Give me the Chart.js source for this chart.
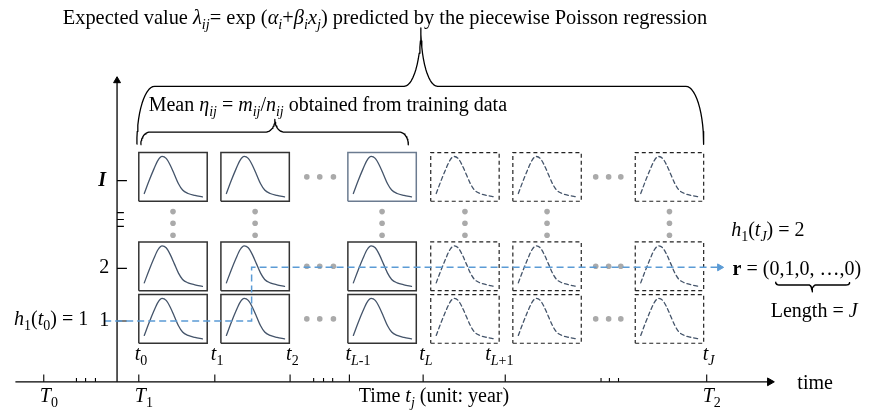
<!DOCTYPE html>
<html><head><meta charset="utf-8">
<script src="https://cdn.jsdelivr.net/npm/chart.js@4.4.1/dist/chart.umd.min.js"></script>
<style>html,body{margin:0;padding:0;background:#fff;overflow:hidden}canvas{display:block}</style>
</head><body>
<canvas id="c" width="870" height="419"></canvas>
<script>
// ===================== DATA =====================
// Time axis (unit: one observation interval, t0 = 0)
const majorTickTimes = [-1.25, 0, 1, 1.99, 2.77, 3.74, 4.82, 7.47];
const minorTickTimes = [-0.82, -0.70, -0.57, 2.30, 2.43, 2.55, 6.08, 6.19, 6.31];
// tick labels above the axis  (text, subscript)
const topTickLabels = [['t', '0'], ['t', '1'], ['t', '2'], ['t', 'L', '-1'], ['t', 'L'], ['t', 'L', '+1'], ['t', 'J']];
const topTickLabelTimes = [0, 1, 1.99, 2.77, 3.74, 4.61, 7.47];
// tick labels below the axis
const bottomTickLabels = [['T', '0'], ['T', '1'], ['T', '2']];
const bottomTickLabelTimes = [-1.25, 0, 7.47];

// State axis
const stateTicks = [1, 2, 3.67];
const stateTickLabels = ['1', '2', 'I'];
const minorStateTicks = [2.80, 2.93, 3.06];

// Cells (time slot x state), observed (training) vs predicted
const cellStartTimes = [0, 1.08, 2.75, 3.84, 4.92, 6.53];
const cellObserved   = [true, true, true, false, false, false];
const cellDuration   = 0.9;
const cellRowStates  = [1.04, 2.04, 3.74];
const cellStateSpan  = 0.926;

// Density shape drawn in every cell (relative time u, relative height v)
const densityU = [0.08, 0.15, 0.22, 0.28, 0.34, 0.40, 0.46, 0.52, 0.58, 0.64, 0.72, 0.82, 0.93];
const densityV = [0.16, 0.42, 0.66, 0.84, 0.92, 0.88, 0.74, 0.55, 0.36, 0.23, 0.16, 0.12, 0.09];

// Ellipsis dots
const hEllipsisTimes = [2.21, 2.38, 2.56, 6.01, 6.18, 6.34];
const vEllipsisStates = [2.63, 2.86, 3.08];

// Trajectory h1(t): state 1 at t0, jumps to 2
const pathTimes  = [-0.455, 1.484, 1.484, 7.62];
const pathStates = [1, 1, 2.02, 2.02];

// ===================== LAYOUT / STYLE =====================
const X_MIN = -135 / 77, X_MAX = 735 / 77;
const Y_MIN = 1 - 95 / 54, Y_MAX = 1 + 324 / 54;
const AXIS_S = -0.157, AXIS_T = -0.286;
const FONT = '"Liberation Serif", "Times New Roman", serif';
const FS = 20;
const CURVE = '#44546a', BLUE = '#5b9bd5', DOT = '#aaaaaa';

const datasets = [];
function seg(points, o) {
  datasets.push(Object.assign({
    data: points, showLine: true, borderColor: '#000', borderWidth: 1.3,
    pointRadius: 0, fill: false, order: 5, borderCapStyle: 'butt', borderJoinStyle: 'miter'
  }, o || {}));
}
function arrow(x, y, rot, color, r) {
  datasets.push({ data: [{x, y}], showLine: false, pointStyle: 'triangle', pointRotation: rot,
    pointRadius: r, backgroundColor: color, borderColor: color, borderWidth: 1, order: 0 });
}

// axes
seg([{x: -1.623, y: AXIS_S}, {x: 8.33, y: AXIS_S}], {order: 3});
arrow(8.30, AXIS_S, 90, '#000', 4.5);
seg([{x: AXIS_T, y: AXIS_S}, {x: AXIS_T, y: 5.58}], {order: 3});
arrow(AXIS_T, 5.57, 0, '#000', 4);
majorTickTimes.forEach(t => seg([{x: t, y: AXIS_S}, {x: t, y: AXIS_S + 0.139}], {borderWidth: 1.1, order: 3}));
minorTickTimes.forEach(t => seg([{x: t, y: AXIS_S}, {x: t, y: AXIS_S + 0.074}], {borderWidth: 1.1, order: 3}));
stateTicks.forEach(s => seg([{x: AXIS_T, y: s}, {x: AXIS_T + 0.13, y: s}], {borderWidth: 1.1, order: 3}));
minorStateTicks.forEach(s => seg([{x: AXIS_T, y: s}, {x: AXIS_T + 0.09, y: s}], {borderWidth: 1.1, order: 3}));

// cells
cellStartTimes.forEach((t0, c) => {
  cellRowStates.forEach((sc, r) => {
    const x0 = t0, x1 = t0 + cellDuration, y0 = sc - cellStateSpan / 2, y1 = sc + cellStateSpan / 2;
    const obs = cellObserved[c];
    let bc = obs ? '#333' : '#222';
    if (obs && c === 2 && r === 2) bc = '#6b7b90';
    seg([{x: x0, y: y0}, {x: x1, y: y0}, {x: x1, y: y1}, {x: x0, y: y1}, {x: x0, y: y0}],
      {borderColor: bc, borderWidth: obs ? 1.5 : 1.2, borderDash: obs ? [] : [4, 3], order: 6});
    seg(densityU.map((u, i) => ({x: x0 + u * cellDuration, y: y0 + densityV[i] * cellStateSpan})),
      {borderColor: CURVE, borderWidth: 1.3, borderDash: obs ? [] : [4, 3],
       cubicInterpolationMode: 'monotone', order: 6, borderCapStyle: 'round'});
  });
});

// ellipsis dots
const dots = [];
hEllipsisTimes.forEach(t => cellRowStates.forEach(s => dots.push({x: t, y: s})));
cellStartTimes.forEach(t0 => vEllipsisStates.forEach(s => dots.push({x: t0 + cellDuration / 2, y: s})));
datasets.push({data: dots, showLine: false, pointRadius: 2.8, backgroundColor: DOT, borderWidth: 0, order: 4});

// trajectory
seg(pathTimes.map((t, i) => ({x: t, y: pathStates[i]})), {borderColor: BLUE, borderWidth: 1.5, borderDash: [7, 4], order: 1});
arrow(pathTimes[pathTimes.length - 1] + 0.02, pathStates[pathStates.length - 1], 90, BLUE, 4);

// braces
function brace(x0, x1, xm, yEnd, yBar, yTip, rx, rt) {
  const pts = [], N = 14;
  for (let i = 0; i <= N; i++) { const a = i / N * Math.PI / 2; pts.push({x: x0 + rx - rx * Math.cos(a), y: yEnd + (yBar - yEnd) * Math.sin(a)}); }
  for (let i = 0; i <= N; i++) { const a = i / N * Math.PI / 2; pts.push({x: xm - rt + rt * Math.sin(a), y: yTip + (yBar - yTip) * Math.cos(a)}); }
  for (let i = 0; i <= N; i++) { const a = i / N * Math.PI / 2; pts.push({x: xm + rt - rt * Math.cos(a), y: yTip + (yBar - yTip) * Math.sin(a)}); }
  for (let i = 0; i <= N; i++) { const a = i / N * Math.PI / 2; pts.push({x: x1 - rx + rx * Math.sin(a), y: yEnd + (yBar - yEnd) * Math.cos(a)}); }
  seg(pts, {borderWidth: 1.3, borderJoinStyle: 'round', order: 2});
}
brace(-0.026, 7.43, 3.71, 4.36, 5.463, 6.574, 0.235, 0.22);
brace(0.026, 3.545, 1.79, 4.352, 4.593, 4.833, 0.12, 0.12);
brace(8.377, 9.351, 8.857, 1.741, 1.685, 1.556, 0.04, 0.045);

// ===================== TEXT =====================
const annotations = [
  {runs: [['Expected value ', 'n'], ['λ', 'i'], ['ij', 'si'], ['= exp (', 'n'], ['α', 'i'], ['i', 'si'], ['+', 'n'], ['β', 'i'], ['i', 'si'], ['x', 'i'], ['j', 'si'], [') predicted by the piecewise Poisson regression', 'n']], x: -1.0, s: 6.648, size: 20.4},
  {runs: [['Mean ', 'n'], ['η', 'i'], ['ij', 'si'], [' = ', 'n'], ['m', 'i'], ['ij', 'si'], ['/', 'n'], ['n', 'i'], ['ij', 'si'], [' obtained from training data', 'n']], x: 0.13, s: 5.0},
  {runs: [['h', 'i'], ['1', 'sn'], ['(', 'n'], ['t', 'i'], ['0', 'sn'], [') = 1', 'n']], x: -1.64, s: 0.926},
  {runs: [['h', 'i'], ['1', 'sn'], ['(', 'n'], ['t', 'i'], ['J', 'si'], [') = 2', 'n']], x: 7.792, s: 2.611},
  {runs: [['r', 'b'], [' = (0,1,0, …,0)', 'n']], x: 7.81, s: 1.870},
  {runs: [['Length = ', 'n'], ['J', 'i']], x: 8.312, s: 1.074},
  {runs: [['Time ', 'n'], ['t', 'i'], ['j', 'si'], [' (unit: year)', 'n']], x: 3.883, s: -0.537, align: 'center'},
  {runs: [['time', 'n']], x: 8.662, s: -0.296},
];
stateTicks.forEach((s, i) => annotations.push({runs: [[stateTickLabels[i], stateTickLabels[i] === 'I' ? 'bi' : 'n']], x: -0.39, s, dy: 5, dx: stateTickLabels[i] === 'I' ? -3 : 0, align: 'right'}));
topTickLabels.forEach((l, i) => {
  const runs = [[l[0], 'i'], [l[1], /^[0-9]/.test(l[1]) ? 'sn' : 'si']];
  if (l[2]) runs.push([l[2], 'sn']);
  annotations.push({runs, x: topTickLabelTimes[i], s: AXIS_S, dx: -4, dy: -21.5});
});
bottomTickLabels.forEach((l, i) => annotations.push({runs: [[l[0], 'i'], [l[1], 'sn']], x: bottomTickLabelTimes[i], s: AXIS_S, dx: -4, dy: 20.5}));

function runFont(style, size) {
  const sub = style[0] === 's';
  const st = sub ? style.slice(1) : style;
  const fs = sub ? size * 0.7 : size;
  const f = st === 'i' ? 'italic ' : st === 'b' ? 'bold ' : st === 'bi' ? 'bold italic ' : '';
  return {font: f + fs + 'px ' + FONT, sub};
}
function drawRich(ctx, runs, x, y, align, size) {
  let w = 0;
  const parts = runs.map(([t, s]) => {
    const r = runFont(s, size); ctx.font = r.font;
    const tw = ctx.measureText(t).width; w += tw; return {t, r, tw};
  });
  let cx = align === 'center' ? x - w / 2 : align === 'right' ? x - w : x;
  for (const p of parts) {
    ctx.font = p.r.font;
    ctx.fillText(p.t, cx, y + (p.r.sub ? size * 0.25 : 0));
    cx += p.tw;
  }
}
const textPlugin = {
  id: 'texts',
  afterDatasetsDraw(chart) {
    const ctx = chart.ctx, xs = chart.scales.x, ys = chart.scales.y;
    ctx.save();
    ctx.fillStyle = '#000'; ctx.textBaseline = 'alphabetic'; ctx.textAlign = 'left';
    annotations.forEach(a => drawRich(ctx, a.runs, xs.getPixelForValue(a.x) + (a.dx || 0), ys.getPixelForValue(a.s) + (a.dy || 0), a.align || 'left', a.size || FS));
    ctx.restore();
  }
};

new Chart(document.getElementById('c'), {
  type: 'scatter',
  data: {datasets},
  options: {
    responsive: false, animation: false, devicePixelRatio: 1, events: [],
    layout: {padding: 0},
    plugins: {legend: {display: false}, tooltip: {enabled: false}},
    elements: {point: {radius: 0, hoverRadius: 0}},
    scales: {
      x: {type: 'linear', min: X_MIN, max: X_MAX, display: false},
      y: {type: 'linear', min: Y_MIN, max: Y_MAX, display: false}
    }
  },
  plugins: [textPlugin]
});
</script>
</body></html>
